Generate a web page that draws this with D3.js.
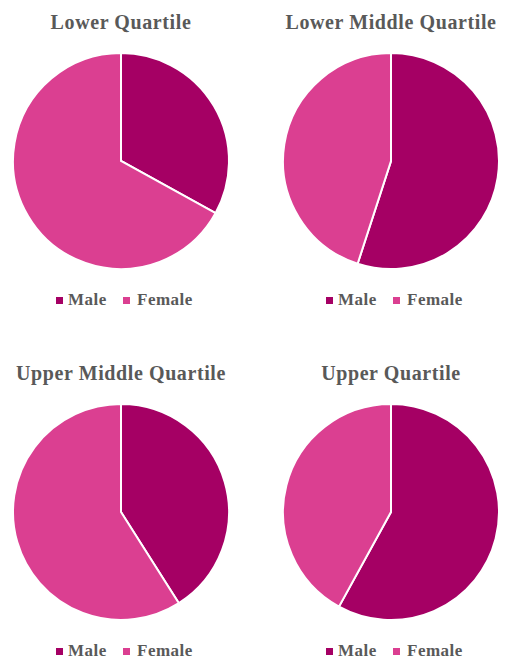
<!DOCTYPE html>
<html><head><meta charset="utf-8">
<script src="https://cdn.jsdelivr.net/npm/d3@7"></script>
<style>body{margin:0;background:#fff}</style>
</head><body>
<svg id="c" width="508" height="659"></svg>
<script>
const titles = ["Lower Quartile","Lower Middle Quartile","Upper Middle Quartile","Upper Quartile"];
const categories = ["Male","Female"];
const maleValues = [33, 55, 41, 58];
const femaleValues = [67, 45, 59, 42];
const colors = ["#A50064","#DB3F91"];

const svg = d3.select("#c");
const color = d3.scaleOrdinal().domain(categories).range(colors);
const pie = d3.pie().sort(null).value(d=>d.v);
const r = 108;
const arc = d3.arc().innerRadius(0).outerRadius(r);
const centers = [[121,161],[391,161],[121,512],[391,512]];
const font = "Liberation Serif, Times New Roman, serif";

titles.forEach((t,i)=>{
  const [cx,cy] = centers[i];
  const data = categories.map((c,j)=>({c, v: j===0?maleValues[i]:femaleValues[i]}));
  const g = svg.append("g");
  g.append("text").attr("x",cx).attr("y",cy-132).attr("text-anchor","middle")
    .attr("font-family",font).attr("font-weight","bold")
    .attr("font-size",20).attr("letter-spacing",0.6).attr("fill","#595959").text(t);
  const pg = g.append("g").attr("transform",`translate(${cx},${cy})`);
  pg.selectAll("path").data(pie(data)).join("path")
    .attr("d",arc).attr("fill",d=>color(d.data.c))
    .attr("stroke","#fff").attr("stroke-width",2);
  const lg = g.append("g").attr("transform",`translate(${cx-65},${cy+144})`);
  const offs = [0,67];
  const tOffs = [12,14];
  categories.forEach((c,j)=>{
    lg.append("rect").attr("x",offs[j]).attr("y",-8).attr("width",7).attr("height",7).attr("fill",color(c));
    lg.append("text").attr("x",offs[j]+tOffs[j]).attr("y",0)
      .attr("font-family",font).attr("font-weight","bold")
      .attr("font-size",17).attr("letter-spacing",0.5).attr("fill","#595959").text(c);
  });
});
</script>
</body></html>
